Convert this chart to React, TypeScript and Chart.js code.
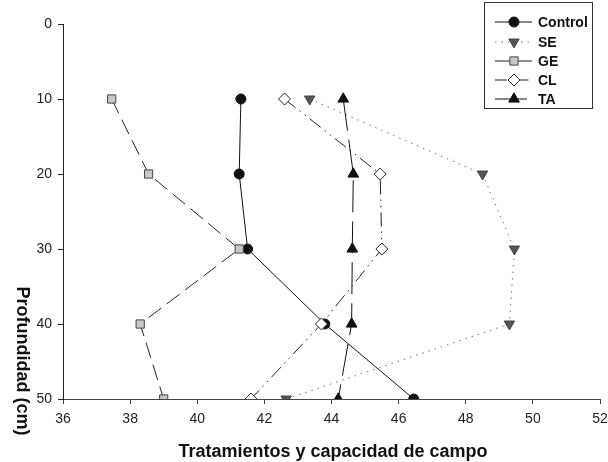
import React, { useEffect, useRef } from "react";
import { Chart, registerables } from "chart.js";
import { drawPoint } from "chart.js/helpers";

Chart.register(...registerables);

const depths = [10, 20, 30, 40, 50];
const controlValues = [41.3, 41.25, 41.5, 43.8, 46.45];
const seValues = [43.35, 48.5, 49.45, 49.3, 42.65];
const geValues = [37.45, 38.55, 41.25, 38.3, 39.0];
const clValues = [42.6, 45.45, 45.5, 43.7, 41.6];
const taValues = [44.35, 44.65, 44.62, 44.6, 44.2];
const seriesNames = ["Control", "SE", "GE", "CL", "TA"];
const xTitle = "Tratamientos y capacidad de campo";
const yTitle = "Profundidad (cm)";

const FONT = "'Liberation Sans', Arial, Helvetica, sans-serif";

type Style = {
  pointStyle: string;
  rotation: number;
  radius: number;
  fill: string;
  stroke: string;
  lineColor: string;
  dash: number[];
};

const styles: Style[] = [
  { pointStyle: "circle", rotation: 0, radius: 5, fill: "#111", stroke: "#111", lineColor: "#111", dash: [] },
  { pointStyle: "triangle", rotation: 180, radius: 6, fill: "#555", stroke: "#444", lineColor: "#777", dash: [1.5, 5] },
  { pointStyle: "rect", rotation: 0, radius: 5.8, fill: "#c8c8c8", stroke: "#444", lineColor: "#222", dash: [16, 7] },
  { pointStyle: "rectRot", rotation: 0, radius: 6, fill: "#fff", stroke: "#222", lineColor: "#222", dash: [14, 5, 1.5, 5, 1.5, 5] },
  { pointStyle: "triangle", rotation: 0, radius: 6.2, fill: "#111", stroke: "#111", lineColor: "#111", dash: [32, 9] },
];

const allValues = [controlValues, seValues, geValues, clValues, taValues];

const customPlugin = {
  id: "custom",
  afterDraw(chart: any) {
    const ctx = chart.ctx;
    ctx.save();
    // Legend box
    ctx.strokeStyle = "#333";
    ctx.lineWidth = 1;
    ctx.strokeRect(484.5, 2.5, 108, 106);
    const rowY = [22, 42, 61, 80, 99];
    seriesNames.forEach((name, i) => {
      const s = styles[i];
      const y = rowY[i];
      ctx.save();
      ctx.strokeStyle = s.lineColor;
      ctx.lineWidth = 1;
      ctx.setLineDash(i === 2 ? [] : i === 3 ? [12, 4, 1.5, 4] : s.dash);
      ctx.beginPath();
      ctx.moveTo(495, y);
      ctx.lineTo(532, y);
      ctx.stroke();
      ctx.restore();
      ctx.save();
      ctx.fillStyle = s.fill;
      ctx.strokeStyle = s.stroke;
      ctx.lineWidth = 1;
      ctx.setLineDash([]);
      drawPoint(
        ctx,
        {
          pointStyle: s.pointStyle,
          rotation: s.rotation,
          radius: s.radius,
          borderWidth: 1,
        } as any,
        514,
        y
      );
      ctx.restore();
      ctx.fillStyle = "#111";
      ctx.font = `bold 14px ${FONT}`;
      ctx.textAlign = "left";
      ctx.textBaseline = "middle";
      ctx.fillText(name, 538, y + 1);
    });
    // Axis titles
    ctx.fillStyle = "#111";
    ctx.font = `bold 18px ${FONT}`;
    ctx.textAlign = "center";
    ctx.textBaseline = "middle";
    ctx.fillText(xTitle, 333, 452);
    ctx.save();
    ctx.translate(22, 361);
    ctx.rotate(Math.PI / 2);
    ctx.fillText(yTitle, 0, 0);
    ctx.restore();
    ctx.restore();
  },
};

export default function App() {
  const ref = useRef<HTMLCanvasElement | null>(null);
  useEffect(() => {
    document.body.style.margin = "0";
    if (!ref.current) return;
    const datasets = allValues.map((vals, i) => {
      const s = styles[i];
      return {
        label: seriesNames[i],
        data: vals.map((v, j) => ({ x: v, y: depths[j] })),
        order: allValues.length - 1 - i,
        showLine: true,
        borderColor: s.lineColor,
        borderWidth: 1,
        borderDash: s.dash,
        pointStyle: s.pointStyle,
        rotation: s.rotation,
        pointRadius: s.radius,
        pointBackgroundColor: s.fill,
        pointBorderColor: s.stroke,
        pointBorderWidth: 1,
        fill: false,
        tension: 0,
      };
    });
    const chart = new Chart(ref.current, {
      type: "scatter",
      data: { datasets: datasets as any },
      plugins: [customPlugin],
      options: {
        animation: false,
        responsive: true,
        maintainAspectRatio: false,
        layout: { padding: { left: 0, right: 0, top: 24, bottom: 0 } },
        plugins: { legend: { display: false }, tooltip: { enabled: false } },
        scales: {
          x: {
            type: "linear",
            min: 36,
            max: 52,
            ticks: { stepSize: 2, color: "#222", font: { family: FONT, size: 14 }, padding: 7 },
            grid: { drawOnChartArea: false, tickLength: 5, color: "#444" },
            border: { color: "#444", width: 1 },
            afterFit: (scale: any) => {
              scale.height = 63;
              scale.paddingRight = 8;
              scale.paddingLeft = 0;
            },
          },
          y: {
            type: "linear",
            min: 0,
            max: 50,
            reverse: true,
            ticks: { stepSize: 10, color: "#222", font: { family: FONT, size: 14 }, padding: 6 },
            grid: { drawOnChartArea: false, tickLength: 5, color: "#222" },
            border: { color: "#222", width: 1 },
            afterFit: (scale: any) => {
              scale.width = 63;
            },
          },
        },
      } as any,
    });
    return () => chart.destroy();
  }, []);
  return (
    <div style={{ position: "relative", width: 608, height: 462 }}>
      <canvas ref={ref} />
    </div>
  );
}
